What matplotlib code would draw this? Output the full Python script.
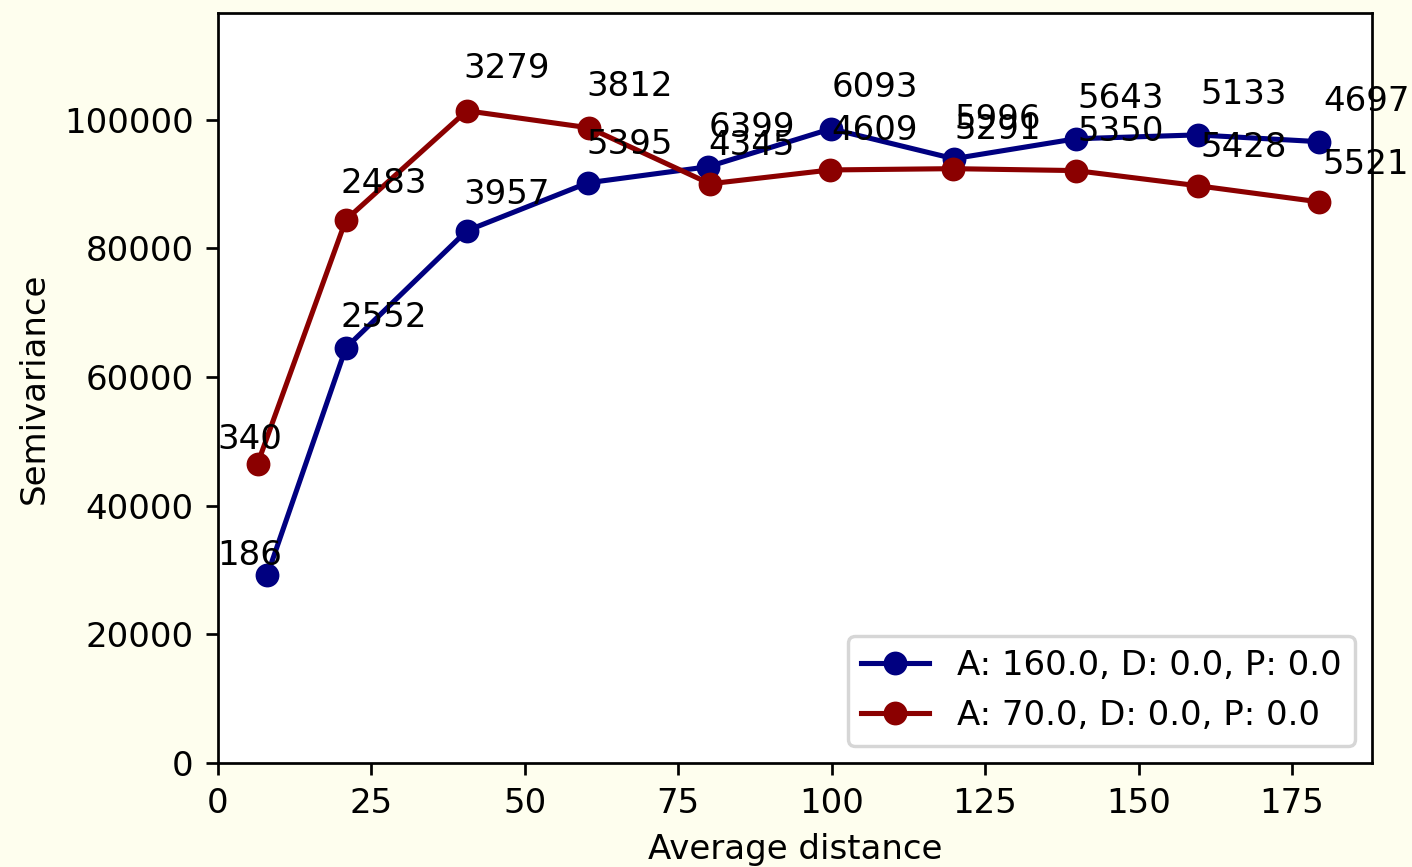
import matplotlib
matplotlib.use("Agg")
import matplotlib.pyplot as plt

# lag bins (where the pair counts are written) and the average distance per bin
lags = [0, 20, 40, 60, 80, 100, 120, 140, 160, 180]

dist_a = [8.1, 20.9, 40.6, 60.3, 79.9, 99.9, 119.9, 139.8, 159.6, 179.3]
semi_a = [29250, 64550, 82750, 90200, 92700, 98600, 93950, 97050, 97650, 96600]
pairs_a = [186, 2552, 3957, 5395, 6399, 6093, 5996, 5643, 5133, 4697]

dist_b = [6.5, 20.9, 40.6, 60.5, 80.2, 99.8, 119.8, 139.8, 159.6, 179.3]
semi_b = [46500, 84450, 101400, 98750, 90050, 92200, 92400, 92100, 89750, 87250]
pairs_b = [340, 2483, 3279, 3812, 4345, 4609, 5291, 5350, 5428, 5521]

label_a = "A: 160.0, D: 0.0, P: 0.0"
label_b = "A: 70.0, D: 0.0, P: 0.0"

fig = plt.figure(figsize=(5.767, 3.539), dpi=245, facecolor="#fefeee")
ax = fig.add_axes([0.154, 0.12, 0.817, 0.865])

ax.plot(dist_a, semi_a, "o-", color="navy", label=label_a)
for lag, y, n in zip(lags, semi_a, pairs_a):
    ax.text(lag, y * 1.05, str(n))

ax.plot(dist_b, semi_b, "o-", color="darkred", label=label_b)
for lag, y, n in zip(lags, semi_b, pairs_b):
    ax.text(lag, y * 1.05, str(n))

ax.set_xlim(0, 188)
ax.set_ylim(0, max(semi_a + semi_b) * 1.15)
ax.set_xlabel("Average distance")
ax.set_ylabel("Semivariance")
ax.legend(loc="lower right")

fig.savefig("out.png", dpi=245, facecolor=fig.get_facecolor())
